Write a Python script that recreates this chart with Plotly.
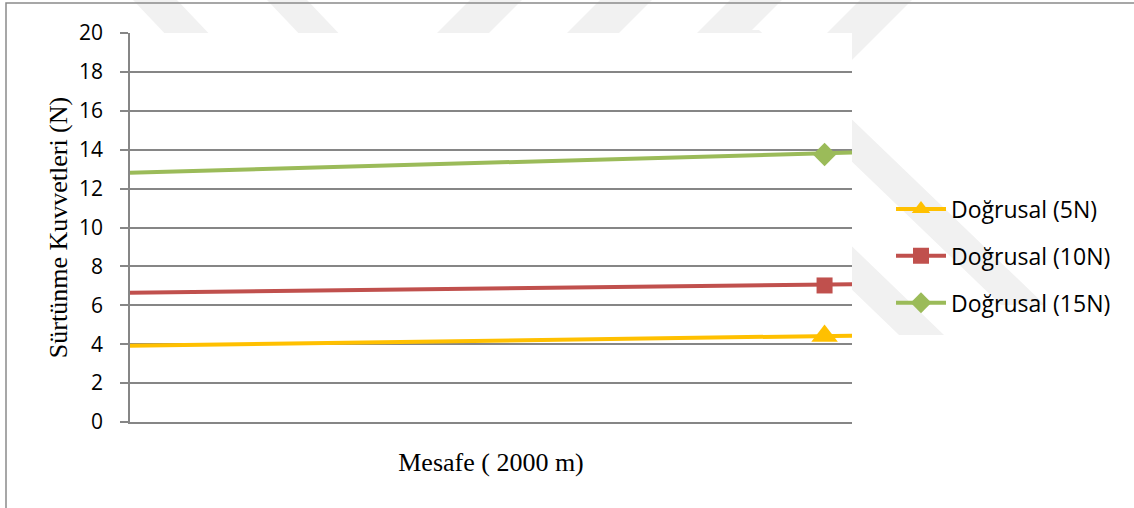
import plotly.graph_objects as go

# Excel style linear trend lines (Doğrusal) for three normal loads
series_names = ["Doğrusal (5N)", "Doğrusal (10N)", "Doğrusal (15N)"]
trend_x = [0, 1]
trend_5n = [3.92, 4.44]
trend_10n = [6.65, 7.08]
trend_15n = [12.82, 13.85]
point_x = [0.962]
point_5n = [4.42]
point_10n = [7.02]
point_15n = [13.75]
y_ticks = [0, 2, 4, 6, 8, 10, 12, 14, 16, 18, 20]

colors = ["#FFC000", "#C0504D", "#9BBB59"]
symbols = ["triangle-up", "square", "diamond"]
msizes = [23, 16, 18]

W, H = 1134, 508
L, R, T, B = 130, 852, 33, 422


def px(x, y):
    # pixel -> paper coordinates
    return (x - L) / (R - L), (B - y) / (B - T)


def poly(pts):
    p = [px(x, y) for x, y in pts]
    return "M " + " L ".join(f"{a:.4f},{b:.4f}" for a, b in p) + " Z"


fig = go.Figure()

trends = [trend_5n, trend_10n, trend_15n]
points = [point_5n, point_10n, point_15n]
for i in range(3):
    fig.add_trace(go.Scatter(x=trend_x, y=trends[i], mode="lines",
                             line=dict(color=colors[i], width=4),
                             showlegend=False, hoverinfo="skip"))
for i in range(3):
    fig.add_trace(go.Scatter(x=point_x, y=points[i], mode="lines+markers",
                             name=series_names[i], legendgroup=str(i),
                             line=dict(color=colors[i], width=4),
                             marker=dict(symbol=symbols[i], size=msizes[i],
                                         color=colors[i])))

# faint watermark stripes behind the chart
stripe = "#f1f1f1"
stripes = [
    [(133, 0), (177, 0), (215, 40), (171, 40)],
    [(267, 0), (307, 0), (345, 40), (305, 40)],
    [(470, 0), (522, 0), (482, 40), (430, 40)],
    [(600, 0), (652, 0), (612, 40), (560, 40)],
    [(730, 0), (782, 0), (742, 40), (690, 40)],
    [(860, 0), (912, 0), (822, 90), (770, 90)],
    [(715, 30), (759, 30), (1045, 305), (1001, 305)],
    [(707, 150), (752, 150), (944, 335), (899, 335)],
]
shapes = [dict(type="path", path=poly(s), xref="paper", yref="paper",
               fillcolor=stripe, line=dict(width=0), layer="below")
          for s in stripes]
# plot area stays white over the stripes
shapes.append(dict(type="rect", xref="paper", yref="paper", x0=0, x1=1, y0=0, y1=1,
                   fillcolor="white", line=dict(width=0), layer="below"))
# outer chart border
x0, y0 = px(6, 3)
x1, y1 = px(1140, 520)
shapes.append(dict(type="rect", xref="paper", yref="paper", x0=x0, x1=x1, y0=y1, y1=y0,
                   line=dict(color="#8a8a8a", width=1.5), fillcolor="rgba(0,0,0,0)"))

fig.update_layout(
    width=W, height=H,
    margin=dict(l=L, r=W - R, t=T, b=H - B),
    paper_bgcolor="white", plot_bgcolor="rgba(0,0,0,0)",
    shapes=shapes,
    font=dict(family="Open Sans", color="black"),
    legend=dict(x=px(891, 0)[0], xanchor="left", y=px(0, 256)[1], yanchor="middle",
                font=dict(family="Open Sans", size=23, color="black"),
                itemwidth=50, tracegroupgap=14, bgcolor="rgba(0,0,0,0)"),
)
fig.update_xaxes(range=[0, 1], showticklabels=False, showgrid=False, zeroline=False,
                 showline=True, linecolor="#868686", linewidth=1.5, ticks="",
                 title=dict(text="Mesafe ( 2000 m)", standoff=30,
                            font=dict(family="Liberation Serif", size=26)))
fig.update_yaxes(range=[0, 20], tickvals=y_ticks, showgrid=True, gridcolor="#868686",
                 gridwidth=1.5, zeroline=False, showline=True, linecolor="#868686",
                 linewidth=1.5, ticks="outside", ticklen=8, tickcolor="#868686",
                 tickwidth=1.5, ticklabelstandoff=13,
                 tickfont=dict(family="Open Sans", size=21),
                 title=dict(text="Sürtünme Kuvvetleri (N)", standoff=4,
                            font=dict(family="Liberation Serif", size=26)))

fig.write_html("out.html", config={"displayModeBar": False},
               post_script="document.body.style.margin='0';")
